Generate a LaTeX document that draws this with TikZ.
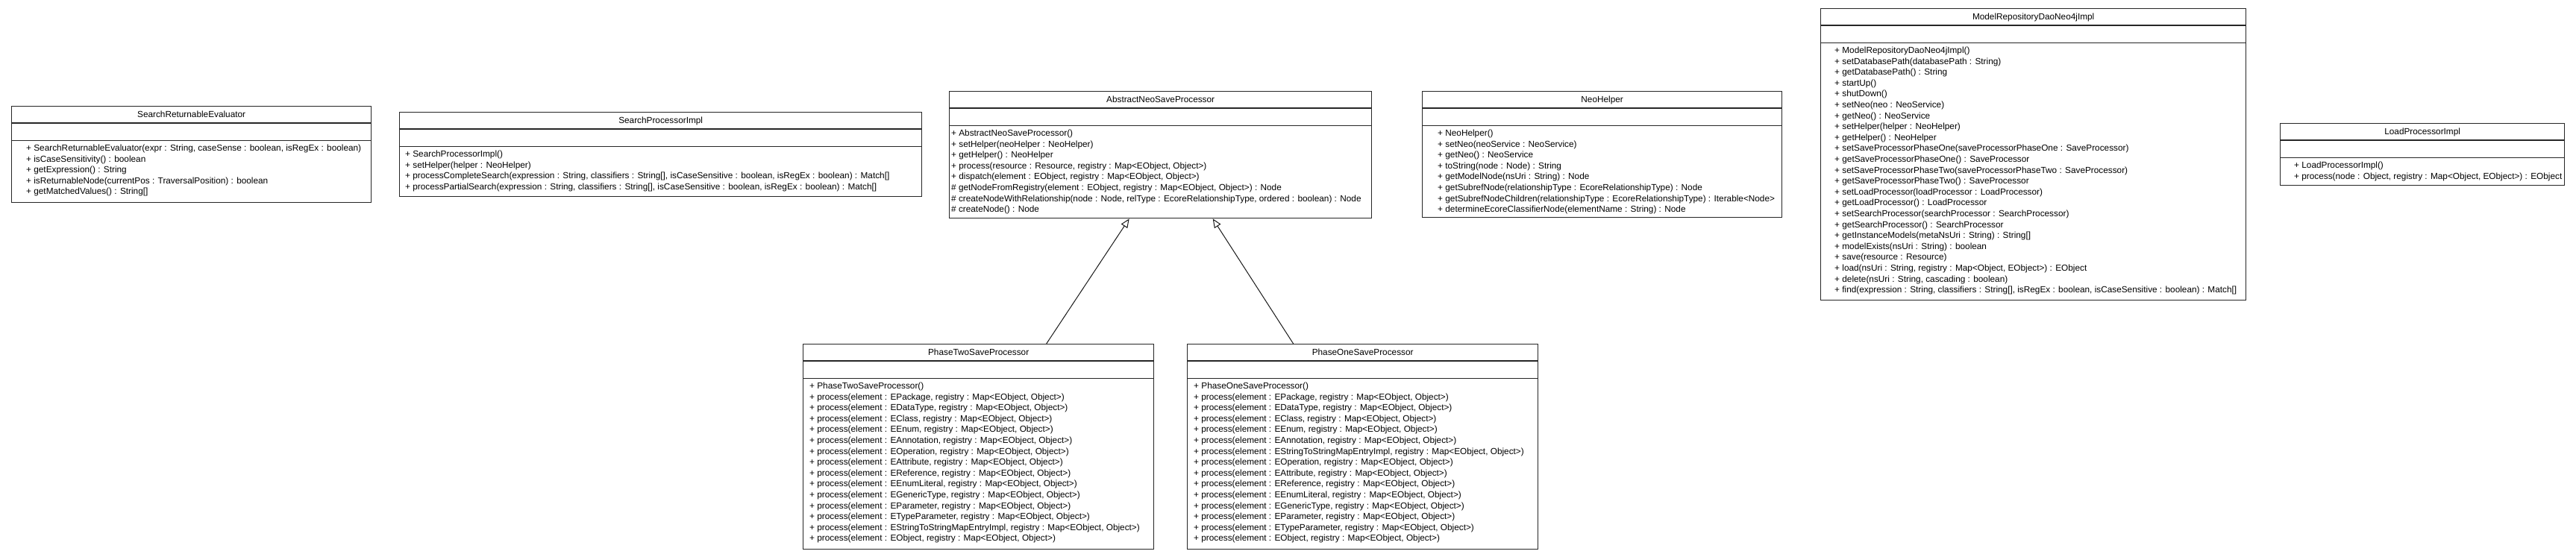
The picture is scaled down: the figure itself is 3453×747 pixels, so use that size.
\documentclass[tikz,border=0pt]{standalone}
\usepackage{fontspec}
\setmainfont{Liberation Sans}
\usetikzlibrary{calc,arrows.meta}
\tikzset{
  clsbox/.style={draw=black!85, line width=1.3bp, inner sep=0pt, rectangle, fill=white},
  sepline/.style={draw=black!85, line width=1.5bp},
  titletext/.style={inner sep=0pt, text height=8.5bp, text depth=0pt, font=\fontsize{11.8bp}{14.6bp}\selectfont},
  methtext/.style={inner sep=0pt, anchor=base west, font=\fontsize{11.8bp}{14.6bp}\selectfont},
  gen/.style={draw=black!90, line width=1bp, -{Triangle[open,length=12bp,width=10bp]}},
}
\newcommand{\ml}[1]{\hbox{#1}}
\newcommand{\pe}[1]{\hbox{+ process(element : #1, registry : Map<EObject, Object>)}}
% #1 name, #2 x, #3 y, #4 width, #5 height, #6 text pad, #7 title, #8 methods
\newcommand{\umlclass}[8]{%
  \node[clsbox, minimum width=#4bp, minimum height=#5bp, anchor=north west] (#1) at (#2,#3) {};
  \draw[sepline] ($(#1.north west)+(0,23)$) -- ($(#1.north east)+(0,23)$);
  \draw[sepline] ($(#1.north west)+(0,46.5)$) -- ($(#1.north east)+(0,46.5)$);
  \node[titletext] (#1-t) at ($(#1.north)+(0,11.5)$) {#7};
  \node[methtext] (#1-m) at ($(#1.north west)+(#6,60.5)$) {\vtop{#8}};
}
\begin{document}
\begin{tikzpicture}[x=1bp, y=-1bp]
\fill[white] (0,0) rectangle (3453,747);
\useasboundingbox (0,0) rectangle (3453,747);

\umlclass{sre}{15}{142}{482}{129}{20}{SearchReturnableEvaluator}{%
\ml{+ SearchReturnableEvaluator(expr : String, caseSense : boolean, isRegEx : boolean)}
\ml{+ isCaseSensitivity() : boolean}
\ml{+ getExpression() : String}
\ml{+ isReturnableNode(currentPos : TraversalPosition) : boolean}
\ml{+ getMatchedValues() : String[]}}

\umlclass{spi}{535}{150}{700}{113}{8}{SearchProcessorImpl}{%
\ml{+ SearchProcessorImpl()}
\ml{+ setHelper(helper : NeoHelper)}
\ml{+ processCompleteSearch(expression : String, classifiers : String[], isCaseSensitive : boolean, isRegEx : boolean) : Match[]}
\ml{+ processPartialSearch(expression : String, classifiers : String[], isCaseSensitive : boolean, isRegEx : boolean) : Match[]}}

\umlclass{abs}{1272}{122}{566}{170}{3}{AbstractNeoSaveProcessor}{%
\ml{+ AbstractNeoSaveProcessor()}
\ml{+ setHelper(neoHelper : NeoHelper)}
\ml{+ getHelper() : NeoHelper}
\ml{+ process(resource : Resource, registry : Map<EObject, Object>)}
\ml{+ dispatch(element : EObject, registry : Map<EObject, Object>)}
\ml{\# getNodeFromRegistry(element : EObject, registry : Map<EObject, Object>) : Node}
\ml{\# createNodeWithRelationship(node : Node, relType : EcoreRelationshipType, ordered : boolean) : Node}
\ml{\# createNode() : Node}}

\umlclass{neo}{1906}{122}{482}{169}{21}{NeoHelper}{%
\ml{+ NeoHelper()}
\ml{+ setNeo(neoService : NeoService)}
\ml{+ getNeo() : NeoService}
\ml{+ toString(node : Node) : String}
\ml{+ getModelNode(nsUri : String) : Node}
\ml{+ getSubrefNode(relationshipType : EcoreRelationshipType) : Node}
\ml{+ getSubrefNodeChildren(relationshipType : EcoreRelationshipType) : Iterable<Node>}
\ml{+ determineEcoreClassifierNode(elementName : String) : Node}}

\umlclass{mrd}{2440}{11}{570}{391}{19}{ModelRepositoryDaoNeo4jImpl}{%
\ml{+ ModelRepositoryDaoNeo4jImpl()}
\ml{+ setDatabasePath(databasePath : String)}
\ml{+ getDatabasePath() : String}
\ml{+ startUp()}
\ml{+ shutDown()}
\ml{+ setNeo(neo : NeoService)}
\ml{+ getNeo() : NeoService}
\ml{+ setHelper(helper : NeoHelper)}
\ml{+ getHelper() : NeoHelper}
\ml{+ setSaveProcessorPhaseOne(saveProcessorPhaseOne : SaveProcessor)}
\ml{+ getSaveProcessorPhaseOne() : SaveProcessor}
\ml{+ setSaveProcessorPhaseTwo(saveProcessorPhaseTwo : SaveProcessor)}
\ml{+ getSaveProcessorPhaseTwo() : SaveProcessor}
\ml{+ setLoadProcessor(loadProcessor : LoadProcessor)}
\ml{+ getLoadProcessor() : LoadProcessor}
\ml{+ setSearchProcessor(searchProcessor : SearchProcessor)}
\ml{+ getSearchProcessor() : SearchProcessor}
\ml{+ getInstanceModels(metaNsUri : String) : String[]}
\ml{+ modelExists(nsUri : String) : boolean}
\ml{+ save(resource : Resource)}
\ml{+ load(nsUri : String, registry : Map<Object, EObject>) : EObject}
\ml{+ delete(nsUri : String, cascading : boolean)}
\ml{+ find(expression : String, classifiers : String[], isRegEx : boolean, isCaseSensitive : boolean) : Match[]}}

\umlclass{lpi}{3056}{165}{381}{83}{19}{LoadProcessorImpl}{%
\ml{+ LoadProcessorImpl()}
\ml{+ process(node : Object, registry : Map<Object, EObject>) : EObject}}

\umlclass{ptwo}{1076}{461}{470}{275}{9}{PhaseTwoSaveProcessor}{%
\ml{+ PhaseTwoSaveProcessor()}
\pe{EPackage}
\pe{EDataType}
\pe{EClass}
\pe{EEnum}
\pe{EAnnotation}
\pe{EOperation}
\pe{EAttribute}
\pe{EReference}
\pe{EEnumLiteral}
\pe{EGenericType}
\pe{EParameter}
\pe{ETypeParameter}
\pe{EStringToStringMapEntryImpl}
\pe{EObject}}

\umlclass{pone}{1591}{461}{470}{275}{9}{PhaseOneSaveProcessor}{%
\ml{+ PhaseOneSaveProcessor()}
\pe{EPackage}
\pe{EDataType}
\pe{EClass}
\pe{EEnum}
\pe{EAnnotation}
\pe{EStringToStringMapEntryImpl}
\pe{EOperation}
\pe{EAttribute}
\pe{EReference}
\pe{EEnumLiteral}
\pe{EGenericType}
\pe{EParameter}
\pe{ETypeParameter}
\pe{EObject}}

\draw[gen] ([xshift=91bp]ptwo.north) -- ([xshift=-42bp]abs.south);
\draw[gen] ([xshift=-93bp]pone.north) -- ([xshift=70bp]abs.south);
\end{tikzpicture}
\end{document}
